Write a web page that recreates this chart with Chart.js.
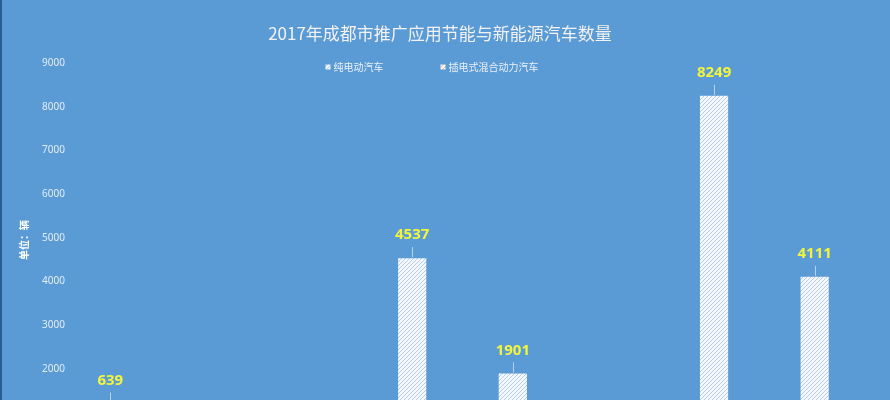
<!DOCTYPE html>
<html>
<head>
<meta charset="utf-8">
<script src="https://cdn.jsdelivr.net/npm/chart.js@4.4.1/dist/chart.umd.min.js"></script>
<style>
  html, body { margin: 0; padding: 0; overflow: hidden; background: #5B9BD5; }
  #wrap { width: 890px; height: 500px; }
</style>
</head>
<body>
<div id="wrap"><canvas id="chart"></canvas></div>
<script>
// Data
const categories = ["公交车", "出租车", "物流车", "私人用车"];
const pureElectric = [639, null, 1901, 8249];
const plugInHybrid = [null, 4537, null, 4111];
const seriesNames = ["纯电动汽车", "插电式混合动力汽车"];
const yTicks = [0, 1000, 2000, 3000, 4000, 5000, 6000, 7000, 8000, 9000];

const titleText = "2017年成都市推广应用节能与新能源汽车数量";
const axisTitle = "单位：辆";

// hatched white fill like the Excel pattern
function makeHatch(lineColor) {
  const c = document.createElement("canvas");
  c.width = 4;
  c.height = 4;
  const g = c.getContext("2d");
  g.fillStyle = "#F4F8FC";
  g.fillRect(0, 0, 4, 4);
  g.strokeStyle = lineColor;
  g.lineWidth = 0.8;
  g.beginPath();
  g.moveTo(0, 4); g.lineTo(4, 0);
  g.moveTo(-1, 1); g.lineTo(1, -1);
  g.moveTo(3, 5); g.lineTo(5, 3);
  g.stroke();
  return g.createPattern(c, "repeat");
}

const ctx = document.getElementById("chart").getContext("2d");
const hatchBlue = makeHatch("#A3C3E4");
const hatchYellow = makeHatch("#E2B860");

const decorations = {
  id: "decorations",
  beforeDraw(chart) {
    const c = chart.ctx;
    c.save();
    c.fillStyle = "#5B9BD5";
    c.fillRect(0, 0, chart.width, chart.height);
    c.fillStyle = "#2B5C8E";
    c.fillRect(0, 0, 2, chart.height);
    c.restore();
  },
  afterDraw(chart) {
    const c = chart.ctx;
    c.save();

    // title
    c.fillStyle = "#F2F2F2";
    c.font = "17px 'Noto Sans CJK SC', 'Noto Sans', sans-serif";
    c.textAlign = "center";
    c.textBaseline = "middle";
    c.fillText(titleText, 440, 34);

    // legend (sits inside the plot area like in Excel)
    c.font = "10px 'Noto Sans CJK SC', 'Noto Sans', sans-serif";
    c.textAlign = "left";
    const box = 5, gapText = 3, gapItem = 57;
    const widths = seriesNames.map(n => box + gapText + c.measureText(n).width);
    let lx = 432 - (widths[0] + widths[1] + gapItem) / 2;
    const ly = 67;
    [hatchBlue, hatchYellow].forEach((pat, i) => {
      c.fillStyle = pat;
      c.fillRect(lx, ly - box / 2, box, box);
      c.fillStyle = "#E9F0F8";
      c.fillText(seriesNames[i], lx + box + gapText, ly + 0.5);
      lx += widths[i] + gapItem;
    });

    // y axis title
    c.translate(24, 240);
    c.rotate(-Math.PI / 2);
    c.fillStyle = "#FFFFFF";
    c.font = "bold 10px 'Noto Sans CJK SC', sans-serif";
    c.textAlign = "center";
    c.fillText(axisTitle, 0, 0);
    c.setTransform(1, 0, 0, 1, 0, 0);

    // data labels with leader lines
    c.font = "bold 15px 'Noto Sans', sans-serif";
    c.textAlign = "center";
    chart.data.datasets.forEach((ds, di) => {
      chart.getDatasetMeta(di).data.forEach((bar, i) => {
        const v = ds.data[i];
        if (v == null) return;
        // short bars get their label lifted higher
        const lift = v < 1000 ? 48 : 23;
        const ty = bar.y - lift;
        c.strokeStyle = "rgba(220,235,250,0.7)";
        c.lineWidth = 1;
        c.beginPath();
        c.moveTo(Math.round(bar.x) + 0.5, ty + 12);
        c.lineTo(Math.round(bar.x) + 0.5, bar.y - 1);
        c.stroke();
        c.fillStyle = "#F2F53C";
        c.fillText(String(v), bar.x, ty);
      });
    });
    c.restore();
  }
};

new Chart(ctx, {
  type: "bar",
  data: {
    labels: categories,
    datasets: [
      {
        label: seriesNames[0],
        data: pureElectric,
        backgroundColor: hatchBlue,
        borderWidth: 0,
        barPercentage: 0.28,
        categoryPercentage: 1.0,
      },
      {
        label: seriesNames[1],
        data: plugInHybrid,
        backgroundColor: hatchBlue,
        borderWidth: 0,
        barPercentage: 0.28,
        categoryPercentage: 1.0,
      },
    ],
  },
  options: {
    responsive: true,
    maintainAspectRatio: false,
    animation: false,
    layout: { padding: { top: 63, right: 25, left: 0, bottom: 0 } },
    plugins: {
      legend: { display: false },
      title: { display: false },
      tooltip: { enabled: false },
    },
    scales: {
      x: {
        grid: { display: false },
        border: { display: false },
        ticks: { color: "#E9F0F8", font: { size: 10 } },
        afterFit: (s) => { s.height = 43.5; },
      },
      y: {
        min: 0,
        max: 9000,
        grid: { display: false, drawTicks: false },
        border: { display: false },
        afterBuildTicks: (s) => { s.ticks = yTicks.map(v => ({ value: v })); },
        ticks: {
          color: "#E4ECF6",
          font: { family: "'Noto Sans', sans-serif", size: 10 },
          mirror: true,
          padding: -18,
          callback: (v) => String(v),
        },
        afterFit: (s) => { s.width = 60; },
      },
    },
  },
  plugins: [decorations],
});
</script>
</body>
</html>
